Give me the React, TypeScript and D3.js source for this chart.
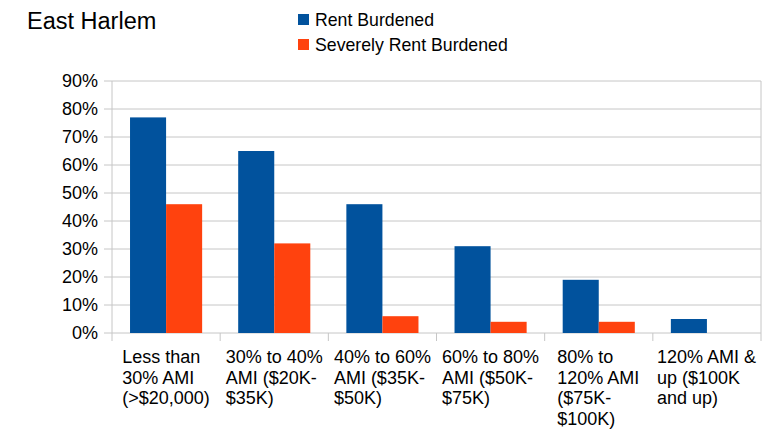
import React from "react";
import * as d3 from "d3";

const categories: string[][] = [
  ["Less than", "30% AMI", "(>$20,000)"],
  ["30% to 40%", "AMI ($20K-", "$35K)"],
  ["40% to 60%", "AMI ($35K-", "$50K)"],
  ["60% to 80%", "AMI ($50K-", "$75K)"],
  ["80% to", "120% AMI", "($75K-", "$100K)"],
  ["120% AMI &", "up ($100K", "and up)"],
];
const seriesNames = ["Rent Burdened", "Severely Rent Burdened"];
const rentBurdened = [77, 65, 46, 31, 19, 5];
const severelyRentBurdened = [46, 32, 6, 4, 4, 0];
const yTicks = [0, 10, 20, 30, 40, 50, 60, 70, 80, 90];
const colors = ["#01529d", "#ff420e"];
const title = "East Harlem";

const W = 771;
const H = 433;
const FONT = "'Liberation Sans', Arial, Helvetica, sans-serif";
const FS = 18;

let ctx: CanvasRenderingContext2D | null = null;
function measure(t: string): number {
  if (!ctx) ctx = document.createElement("canvas").getContext("2d");
  if (!ctx) return t.length * 8;
  ctx.font = `${FS}px ${FONT}`;
  return ctx.measureText(t).width;
}

export default function App() {
  const left = 112, right = 761, top = 81, bottom = 333;
  const x0 = d3.scaleBand<number>().domain(categories.map((_, i) => i)).range([left, right]).paddingInner(0).paddingOuter(0);
  const x1 = d3.scaleBand<number>().domain([0, 1]).range([0, x0.bandwidth()]).paddingInner(0).paddingOuter(0.5);
  const y = d3.scaleLinear().domain([0, 90]).range([bottom, top]);
  const values = [rentBurdened, severelyRentBurdened];
  const grid = "#c6c6c6";
  const boundaries = categories.map((_, i) => x0(i) as number).concat([right]);

  return (
    <svg width={W} height={H} style={{ position: "absolute", left: 0, top: 0, background: "#fff" }} fontFamily={FONT}>
      <rect x={0} y={0} width={W} height={H} fill="#fff" />
      <text x={27} y={29} fontSize={23.5} fill="#000">{title}</text>
      {seriesNames.map((s, i) => (
        <g key={s}>
          <rect x={298} y={14 + i * 25} width={11} height={11} fill={colors[i]} />
          <text x={315} y={26 + i * 24.5} fontSize={17.7} fill="#000">{s}</text>
        </g>
      ))}
      {yTicks.map((t) => (
        <g key={t}>
          <line x1={left - 8} x2={right} y1={y(t)} y2={y(t)} stroke={grid} strokeWidth={1} />
          <text x={98} y={y(t)} dy="0.35em" textAnchor="end" fontSize={FS} fill="#000">{t}%</text>
        </g>
      ))}
      <line x1={left} x2={left} y1={top} y2={bottom} stroke={grid} />
      <line x1={right} x2={right} y1={top} y2={bottom} stroke={grid} />
      {boundaries.map((b, i) => (
        <line key={i} x1={b} x2={b} y1={bottom} y2={bottom + 8} stroke={grid} />
      ))}
      {values.map((vals, s) =>
        vals.map((v, i) => (
          <rect
            key={`${s}-${i}`}
            x={(x0(i) as number) + (x1(s) as number)}
            y={y(v)}
            width={x1.bandwidth()}
            height={bottom - y(v)}
            fill={colors[s]}
          />
        ))
      )}
      {categories.map((lines, i) => {
        const cx = (x0(i) as number) + x0.bandwidth() / 2;
        const maxW = Math.max(...lines.map(measure));
        const sx = cx - maxW / 2;
        return (
          <text key={i} fontSize={FS} fill="#000">
            {lines.map((l, j) => (
              <tspan key={j} x={sx} y={363 + j * 20.5}>{l}</tspan>
            ))}
          </text>
        );
      })}
    </svg>
  );
}
